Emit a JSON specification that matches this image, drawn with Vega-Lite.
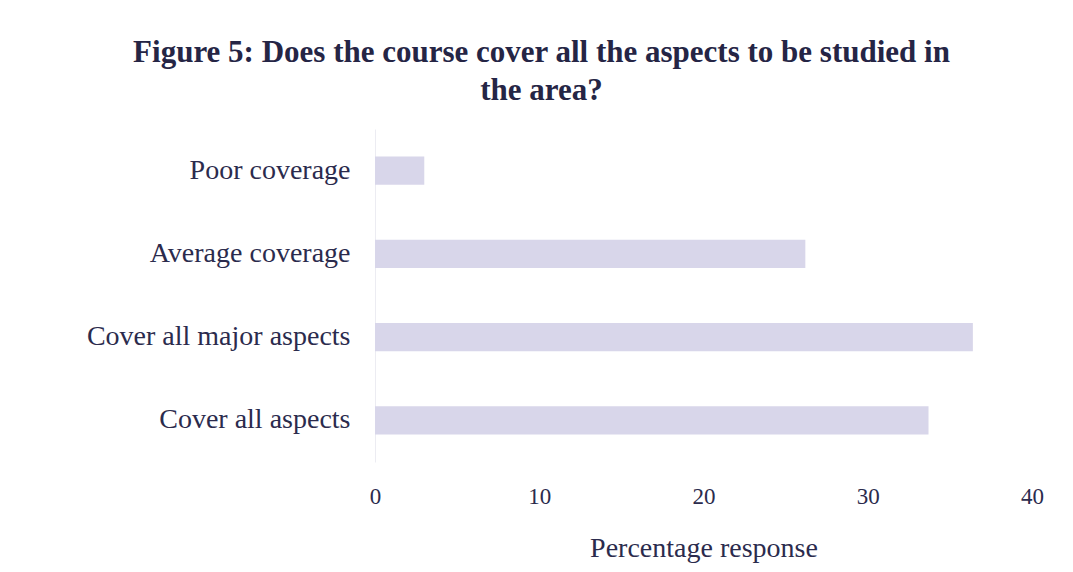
{
  "$schema": "https://vega.github.io/schema/vega-lite/v6.json",
  "autosize": {"type": "none"},
  "width": 657,
  "height": 333,
  "padding": {"left": 375, "top": 129, "right": 41, "bottom": 110},
  "background": "white",
  "title": {
    "text": ["Figure 5: Does the course cover all the aspects to be studied in", "the area?"],
    "font": "Liberation Serif",
    "fontSize": 31,
    "fontWeight": "bold",
    "color": "#252545",
    "anchor": "middle",
    "frame": "group",
    "dx": -162,
    "lineHeight": 38,
    "offset": 22
  },
  "data": {
    "values": [
      {"category": "Poor coverage", "value": 3.0},
      {"category": "Average coverage", "value": 26.2},
      {"category": "Cover all major aspects", "value": 36.4},
      {"category": "Cover all aspects", "value": 33.7}
    ]
  },
  "mark": {"type": "bar", "color": "#d8d6ea"},
  "encoding": {
    "y": {
      "field": "category",
      "type": "nominal",
      "sort": null,
      "scale": {"paddingInner": 0.66, "paddingOuter": 0.33},
      "axis": {
        "title": null,
        "ticks": false,
        "domain": true,
        "domainColor": "#ececf2",
        "labelFont": "Liberation Serif",
        "labelFontSize": 28,
        "labelColor": "#2b2b4d",
        "labelPadding": 25,
        "labelLimit": 400
      }
    },
    "x": {
      "field": "value",
      "type": "quantitative",
      "scale": {"domain": [0, 40]},
      "axis": {
        "title": "Percentage response",
        "titleFont": "Liberation Serif",
        "titleFontSize": 28,
        "titleFontWeight": "normal",
        "titleColor": "#2b2b4d",
        "titlePadding": 26,
        "values": [0, 10, 20, 30, 40],
        "grid": false,
        "ticks": false,
        "domain": false,
        "labelFlush": false,
        "labelFont": "Liberation Serif",
        "labelFontSize": 23,
        "labelColor": "#2b2b4d",
        "labelPadding": 23
      }
    }
  },
  "config": {"view": {"stroke": null}}
}
